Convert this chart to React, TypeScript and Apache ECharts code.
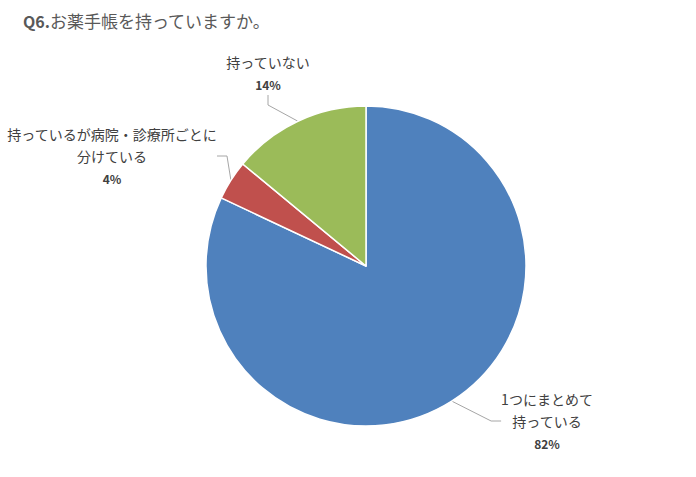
import React, { useEffect, useRef } from "react";
import * as echarts from "echarts";

const categories = ["1つにまとめて\n持っている", "持っているが病院・診療所ごとに\n分けている", "持っていない"];
const values = [82, 4, 14];
const colors = ["#4F81BD", "#C0504D", "#9BBB59"];

const FONT = "'Noto Sans CJK JP', 'Noto Sans', sans-serif";

// where each label sits (centre x, top y)
const labelSpots = [
  { x: 547, y: 388 },
  { x: 112, y: 123 },
  { x: 268, y: 51 },
];

export default function App() {
  const chartRef = useRef<HTMLDivElement>(null);

  useEffect(() => {
    if (!chartRef.current) return;
    const chart = echarts.init(chartRef.current, undefined, { renderer: "svg" });

    chart.setOption({
      animation: false,
      backgroundColor: "#ffffff",
      title: {
        left: 18,
        top: 7,
        text: "{b|Q6.}{r|お薬手帳を持っていますか。}",
        textStyle: {
          fontWeight: "normal",
          rich: {
            b: { fontFamily: FONT, fontSize: 16, fontWeight: "bold", color: "#595959" },
            r: { fontFamily: FONT, fontSize: 17, fontWeight: "normal", color: "#595959" },
          },
        },
      },
      series: [
        {
          type: "pie",
          center: [366, 266],
          radius: 160,
          startAngle: 90,
          clockwise: true,
          itemStyle: { borderColor: "#ffffff", borderWidth: 1.5 },
          label: {
            show: true,
            overflow: "none",
            formatter: (p: any) => `{n|${p.name}}\n{p|${p.value}%}`,
            align: "center",
            lineHeight: 22,
            rich: {
              n: { fontFamily: FONT, fontSize: 14, color: "#404040", lineHeight: 22, align: "center" },
              p: { fontFamily: FONT, fontSize: 12, fontWeight: "bold", color: "#404040", lineHeight: 22, align: "center" },
            },
          },
          labelLine: {
            show: true,
            length: 20,
            length2: 10,
            lineStyle: { color: "#a6a6a6", width: 1 },
          },
          labelLayout: (params: any) => {
            const s = labelSpots[params.dataIndex];
            return { x: s.x, y: s.y, align: "center", verticalAlign: "top" };
          },
          data: categories.map((name, i) => ({
            name,
            value: values[i],
            itemStyle: { color: colors[i] },
          })),
        },
      ],
    });

    return () => {
      chart.dispose();
    };
  }, []);

  return (
    <div
      ref={chartRef}
      style={{ position: "absolute", left: 0, top: 0, width: 696, height: 477 }}
    />
  );
}
